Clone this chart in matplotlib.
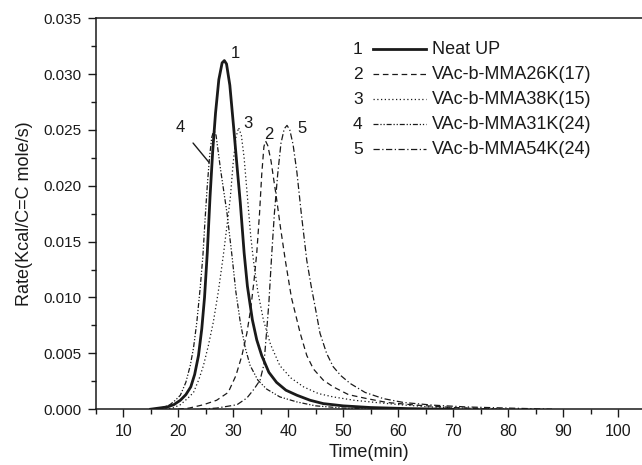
import matplotlib
matplotlib.use("Agg")
import matplotlib.pyplot as plt
from matplotlib.ticker import MultipleLocator

plt.rcParams["font.family"] = ["Liberation Sans", "DejaVu Sans"]

# curve 1: neat UP
t1 = [15, 16.5, 18, 19.2, 20.4, 21.4, 22.3, 23.0, 23.7, 24.3, 24.8, 25.3, 25.8,
      26.3, 26.8, 27.4, 28.0, 28.4, 28.8, 29.4, 30.1, 30.7, 31.3, 32.0, 32.6,
      33.5, 34.3, 35.2, 36.5, 37.9, 39.6, 41.6, 44, 46.4, 50, 55, 62, 70]
r1 = [0, 0.0001, 0.0002, 0.0004, 0.0008, 0.0013, 0.0020, 0.0031, 0.0048,
      0.0072, 0.0100, 0.0140, 0.0190, 0.0232, 0.0265, 0.0295, 0.0310, 0.0312,
      0.0309, 0.0290, 0.0252, 0.0218, 0.0185, 0.0140, 0.0110, 0.0080, 0.0062,
      0.0048, 0.0033, 0.0024, 0.0017, 0.00125, 0.0008, 0.0005, 0.0003,
      0.00015, 0.00005, 0]

# curve 2: VAc-b-MMA26K(17)
t2 = [20, 22, 24.6, 27, 29.1, 30.5, 31.6, 32.5, 33.2, 33.8, 34.3, 34.8, 35.2,
      35.6, 35.9, 36.3, 36.9, 37.4, 37.8, 38.6, 39.5, 40.6, 42.2, 43.4, 44.6,
      46.4, 48.2, 51, 54.3, 58, 63.4, 70, 78]
r2 = [0, 0.0001, 0.0004, 0.0008, 0.0015, 0.0030, 0.0048, 0.0068, 0.0090,
      0.0115, 0.0140, 0.0175, 0.0210, 0.0235, 0.0240, 0.0236, 0.0222, 0.0205,
      0.0192, 0.0163, 0.0133, 0.0100, 0.0068, 0.0048, 0.0036, 0.0026, 0.0020,
      0.0013, 0.00095, 0.0006, 0.00036, 0.00015, 0]

# curve 3: VAc-b-MMA38K(15)
t3 = [17, 19, 20.4, 21.8, 22.8, 23.8, 24.6, 25.5, 26.4, 27.3, 28.2, 28.9, 29.5,
      30.0, 30.5, 31.0, 31.5, 32.0, 32.6, 33.2, 33.7, 34.5, 35.5, 36.8, 38.5,
      40.5, 42.8, 45.5, 48.2, 52, 56, 60.4, 66, 72, 80]
r3 = [0, 0.0001, 0.0004, 0.0010, 0.0015, 0.0027, 0.0039, 0.0057, 0.0078,
      0.0105, 0.0137, 0.0165, 0.0190, 0.0220, 0.0243, 0.0252, 0.0245, 0.0225,
      0.0190, 0.0155, 0.0133, 0.0105, 0.0080, 0.0058, 0.0039, 0.0028, 0.0020,
      0.0014, 0.0011, 0.0008, 0.0006, 0.0004, 0.0002, 0.0001, 0]

# curve 4: VAc-b-MMA31K(24)
t4 = [16, 17.5, 18.5, 19.5, 20.4, 21.4, 22.2, 22.8, 23.4, 24.0, 24.5, 24.9,
      25.3, 25.7, 26.1, 26.5, 26.9, 27.3, 27.7, 28.3, 28.9, 29.8, 30.5, 31.3,
      32.2, 33.1, 34.5, 36.1, 38.5, 41.6, 45, 50, 56]
r4 = [0, 0.0002, 0.0004, 0.0008, 0.00125, 0.0024, 0.0039, 0.0055, 0.0078,
      0.0108, 0.0137, 0.0170, 0.0200, 0.0225, 0.0243, 0.0250, 0.0245, 0.0230,
      0.0215, 0.0195, 0.0175, 0.0137, 0.0105, 0.0078, 0.0055, 0.0039, 0.0026,
      0.0018, 0.0011, 0.00065, 0.0003, 0.0001, 0]

# curve 5: VAc-b-MMA54K(24)
t5 = [24, 27, 30.7, 32.5, 33.8, 34.9, 35.6, 36.1, 36.5, 37.0, 37.5, 38.1, 38.7,
      39.3, 39.8, 40.3, 40.9, 41.6, 42.4, 43.4, 44.2, 44.9, 45.8, 47.0, 48.2,
      49.6, 51.3, 54, 57.3, 61, 66.4, 72.5, 80, 88]
r5 = [0, 0.0001, 0.0004, 0.0010, 0.0018, 0.0026, 0.0040, 0.0070, 0.0095,
      0.0137, 0.0175, 0.0210, 0.0238, 0.0251, 0.0254, 0.0250, 0.0237, 0.0212,
      0.0175, 0.0133, 0.0110, 0.0092, 0.0068, 0.0050, 0.0038, 0.0030, 0.0023,
      0.0015, 0.00095, 0.0006, 0.00036, 0.0002, 0.0001, 0]

labels = ["Neat UP", "VAc-b-MMA26K(17)", "VAc-b-MMA38K(15)",
          "VAc-b-MMA31K(24)", "VAc-b-MMA54K(24)"]

color = "#1a1a1a"
styles = [
    dict(linestyle="-", linewidth=2.0),
    dict(linestyle=(0, (4.5, 3)), linewidth=0.9),
    dict(linestyle=(0, (1, 2)), linewidth=0.9),
    dict(linestyle=(0, (4, 1.5, 1, 1.5, 1, 1.5)), linewidth=0.9),
    dict(linestyle=(0, (5, 2, 1, 2)), linewidth=0.9),
]

fig = plt.figure(figsize=(6.42, 4.65), dpi=100)
ax = fig.add_axes([0.149, 0.120, 0.851, 0.841])

series = [(t1, r1), (t2, r2), (t3, r3), (t4, r4), (t5, r5)]
for (t, r), st in zip(series, styles):
    ax.plot(t, r, color=color, **st)

ax.set_xlim(5, 104.36)
ax.set_ylim(0, 0.035)

ax.xaxis.set_major_locator(MultipleLocator(10))
ax.xaxis.set_minor_locator(MultipleLocator(5))
ax.yaxis.set_major_locator(MultipleLocator(0.005))
ax.yaxis.set_minor_locator(MultipleLocator(0.0025))
ax.set_xticks(range(10, 101, 10))
ax.yaxis.set_major_formatter(plt.FuncFormatter(lambda v, p: f"{v:.3f}"))

ax.tick_params(axis="both", which="major", direction="out", length=6,
               width=1, color=color, pad=4)
ax.tick_params(axis="both", which="minor", direction="out", length=3.5,
               width=1, color=color)
ax.tick_params(axis="x", labelsize=11.5, labelcolor=color, pad=4.5)
ax.tick_params(axis="y", labelsize=11, labelcolor=color)
ax.tick_params(axis="x", which="both", top=False)

ax.spines["right"].set_visible(False)
for side in ["left", "bottom", "top"]:
    ax.spines[side].set_color(color)
    ax.spines[side].set_linewidth(1.1)

ax.set_xlabel("Time(min)", fontsize=13, color=color, labelpad=4)
ax.set_ylabel("Rate(Kcal/C=C mole/s)", fontsize=13, color=color, labelpad=8)

# peak numbers
ax.text(30.4, 0.0318, "1", fontsize=12, color=color, ha="center", va="center")
ax.text(32.7, 0.0256, "3", fontsize=12, color=color, ha="center", va="center")
ax.text(36.4, 0.0246, "2", fontsize=12, color=color, ha="center", va="center")
ax.text(42.5, 0.0251, "5", fontsize=12, color=color, ha="center", va="center")
ax.annotate("4", xy=(25.6, 0.0221), xytext=(20.4, 0.0252), fontsize=12,
            color=color, ha="center", va="center",
            arrowprops=dict(arrowstyle="-", color=color, lw=1,
                            shrinkA=6, shrinkB=0))

# legend with numbers in front of each sample line
row_y = [0.921, 0.857, 0.793, 0.729, 0.665]
for i, (lab, st) in enumerate(zip(labels, styles)):
    y = row_y[i]
    ax.text(0.480, y, str(i + 1), transform=ax.transAxes, fontsize=12.5,
            color=color, ha="center", va="center")
    ax.plot([0.507, 0.605], [y, y], transform=ax.transAxes, color=color,
            **st)
    ax.text(0.616, y, lab, transform=ax.transAxes, fontsize=13,
            color=color, ha="left", va="center")

fig.savefig("out.png", dpi=100)
